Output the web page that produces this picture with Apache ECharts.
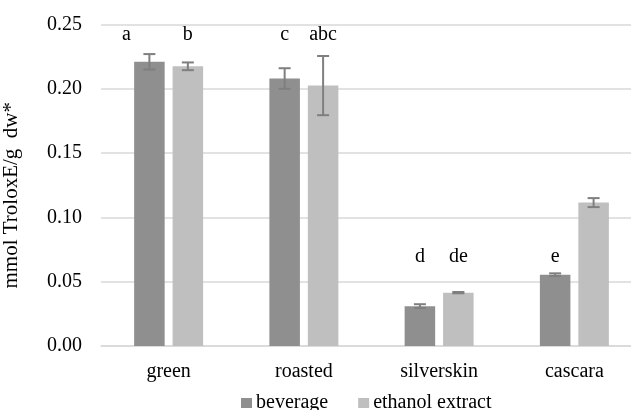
<!DOCTYPE html>
<html>
<head>
<meta charset="utf-8">
<script src="https://cdn.jsdelivr.net/npm/echarts@6/dist/echarts.min.js"></script>
<style>
html,body{margin:0;padding:0;background:#fff;}
#chart{width:631px;height:410px;}
</style>
</head>
<body>
<div id="chart"></div>
<script>
var categories = ['green', 'roasted', 'silverskin', 'cascara'];
var seriesNames = ['beverage', 'ethanol extract'];
var beverage = [0.221, 0.208, 0.031, 0.0555];
var beverageErr = [0.006, 0.008, 0.0015, 0.001];
var ethanol = [0.2175, 0.2025, 0.0415, 0.1115];
var ethanolErr = [0.003, 0.023, 0.0005, 0.0035];
var beverageLetters = ['a', 'c', 'd', 'e'];
var ethanolLetters = ['b', 'abc', 'de', ''];
var letterLevel = [0.2422, 0.2422, 0.0692, 0.0692];
var yTicks = [0, 0.05, 0.10, 0.15, 0.20, 0.25];

var FONT = '"Liberation Serif", "Times New Roman", serif';
var BAR_CAT_GAP = '49%';
var BAR_GAP = '26%';
var colors = ['#8f8f8f', '#bfbfbf'];

function layoutFallback(api) {
  var band = api.size([1, 0])[0];
  var remained = band * (1 - 0.49);
  var w = remained / (2 + 0.26);
  var total = 2 * w + 0.26 * w;
  return [
    {offsetCenter: -total / 2 + w / 2, width: w},
    {offsetCenter: -total / 2 + w * 1.26 + w / 2, width: w}
  ];
}

function makeRender(idx, letters, letterShift) {
  return function (params, api) {
    var layouts = null;
    try {
      layouts = api.barLayout({count: 2, barGap: BAR_GAP, barCategoryGap: BAR_CAT_GAP});
    } catch (e) { layouts = null; }
    if (!layouts || !layouts[idx]) layouts = layoutFallback(api);
    var off = layouts[idx].offsetCenter;
    var ci = api.value(0);
    var hi = api.coord([ci, api.value(1) + api.value(2)]);
    var lo = api.coord([ci, api.value(1) - api.value(2)]);
    var x = hi[0] + off;
    var hw = 6;
    var st = {stroke: '#7f7f7f', lineWidth: 2};
    var children = [
      {type: 'line', shape: {x1: x, y1: hi[1], x2: x, y2: lo[1]}, style: st},
      {type: 'line', shape: {x1: x - hw, y1: hi[1], x2: x + hw, y2: hi[1]}, style: st},
      {type: 'line', shape: {x1: x - hw, y1: lo[1], x2: x + hw, y2: lo[1]}, style: st}
    ];
    var letter = letters[params.dataIndex];
    if (letter) {
      var lp = api.coord([ci, letterLevel[params.dataIndex]]);
      children.push({
        type: 'text',
        style: {
          text: letter, x: x + (letterShift[params.dataIndex] || 0), y: lp[1],
          align: 'center', verticalAlign: 'middle',
          font: '20px ' + FONT, fill: '#000'
        }
      });
    }
    return {type: 'group', children: children};
  };
}

function errData(vals, errs) {
  return vals.map(function (v, i) { return [i, v, errs[i]]; });
}

var chart = echarts.init(document.getElementById('chart'), null, {renderer: 'canvas'});
chart.setOption({
  animation: false,
  backgroundColor: '#fff',
  textStyle: {fontFamily: FONT},
  grid: {left: 101, right: -11, top: 24.5, bottom: 64, containLabel: false, outerBoundsMode: 'none'},
  legend: {
    data: seriesNames,
    left: 241, top: 393, padding: 0,
    itemWidth: 11, itemHeight: 10, itemGap: 30,
    icon: 'rect',
    textStyle: {fontFamily: FONT, fontSize: 20, color: '#000', padding: [0, 0, 0, -1]}
  },
  xAxis: {
    type: 'category',
    data: categories,
    axisTick: {show: false},
    axisLine: {show: true, lineStyle: {color: '#d9d9d9', width: 1.5}},
    axisLabel: {fontFamily: FONT, fontSize: 20, color: '#000', margin: 16}
  },
  yAxis: {
    type: 'value',
    min: 0, max: 0.25, interval: 0.05,
    name: 'mmol TroloxE/g  dw*',
    nameLocation: 'middle',
    nameRotate: 90,
    nameGap: 79,
    nameTextStyle: {fontFamily: FONT, fontSize: 21, color: '#000', padding: [0, 20, 0, 0]},
    axisLine: {show: false},
    axisTick: {show: false},
    splitLine: {lineStyle: {color: '#d9d9d9', width: 1.5}},
    axisLabel: {
      fontFamily: FONT, fontSize: 20, color: '#000', margin: 19,
      formatter: function (v) { return v.toFixed(2); }
    }
  },
  series: [
    {name: seriesNames[0], type: 'bar', data: beverage, barGap: BAR_GAP, barCategoryGap: BAR_CAT_GAP,
     itemStyle: {color: colors[0]}},
    {name: seriesNames[1], type: 'bar', data: ethanol, barGap: BAR_GAP, barCategoryGap: BAR_CAT_GAP,
     itemStyle: {color: colors[1]}},
    {type: 'custom', name: 'errBev', renderItem: makeRender(0, beverageLetters, {0: -23}),
     data: errData(beverage, beverageErr), z: 10, silent: true},
    {type: 'custom', name: 'errEth', renderItem: makeRender(1, ethanolLetters, {}),
     data: errData(ethanol, ethanolErr), z: 10, silent: true}
  ]
});
</script>
</body>
</html>
